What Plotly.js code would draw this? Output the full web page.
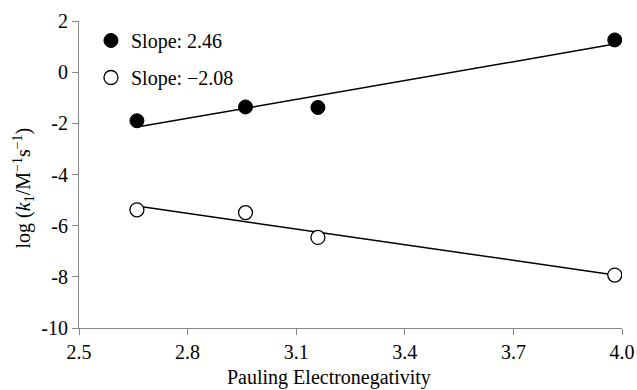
<!DOCTYPE html>
<html>
<head>
<meta charset="utf-8">
<script src="https://cdn.plot.ly/plotly-3.0.1.min.js"></script>
<style>html,body{margin:0;padding:0;background:#fff;}#chart{width:637px;height:390px;}</style>
</head>
<body>
<div id="chart"></div>
<script>
// Pauling electronegativity of halides (I, Br, Cl, F)
const electronegativity = [2.66, 2.96, 3.16, 3.98];
const logK1Filled = [-1.90, -1.36, -1.38, 1.26];
const logK1Open = [-5.38, -5.49, -6.46, -7.93];
const seriesNames = ['Slope: 2.46', 'Slope: \u22122.08'];
const xTicks = [2.5, 2.8, 3.1, 3.4, 3.7, 4.0];
const yTicks = [-10, -8, -6, -4, -2, 0, 2];
const xTitle = 'Pauling Electronegativity';
const yTitle = 'log (<i>k</i><sub>1</sub>/M<sup>\u22121</sup>s<sup>\u22121</sup>)';

function fit(x, y) {
  const n = x.length;
  const mx = x.reduce((a, b) => a + b, 0) / n;
  const my = y.reduce((a, b) => a + b, 0) / n;
  let sxy = 0, sxx = 0;
  for (let i = 0; i < n; i++) { sxy += (x[i] - mx) * (y[i] - my); sxx += (x[i] - mx) ** 2; }
  const m = sxy / sxx, b = my - m * mx;
  const xs = [Math.min(...x), Math.max(...x)];
  return { x: xs, y: xs.map(v => m * v + b) };
}
const f1 = fit(electronegativity, logK1Filled);
const f2 = fit(electronegativity, logK1Open);

const fam = '"Liberation Serif", "Times New Roman", serif';
const fnt = s => ({ family: fam, size: s, color: '#000' });

const traces = [
  { x: f1.x, y: f1.y, mode: 'lines', line: { color: '#000', width: 1.5 }, showlegend: false, hoverinfo: 'skip' },
  { x: f2.x, y: f2.y, mode: 'lines', line: { color: '#000', width: 1.5 }, showlegend: false, hoverinfo: 'skip' },
  { x: electronegativity, y: logK1Filled, mode: 'markers', name: seriesNames[0], legendgroup: 'a',
    marker: { symbol: 'circle', size: 14, color: '#000', line: { color: '#000', width: 1 } } },
  { x: electronegativity, y: logK1Open, mode: 'markers', name: seriesNames[1], legendgroup: 'b',
    marker: { symbol: 'circle', size: 14, color: '#fff', line: { color: '#000', width: 1.3 } } }
];

const layout = {
  width: 637, height: 390,
  margin: { l: 79, r: 15, t: 21, b: 62 },
  paper_bgcolor: '#fff', plot_bgcolor: '#fff',
  font: fnt(20),
  showlegend: true,
  legend: { x: 0.022, y: 1.0, xanchor: 'left', yanchor: 'top', bgcolor: 'rgba(0,0,0,0)',
    traceorder: 'grouped', tracegroupgap: 8, font: fnt(20) },
  xaxis: {
    range: [2.5, 4.0], tickvals: xTicks, ticktext: xTicks.map(v => v.toFixed(1)),
    showgrid: false, zeroline: false, showline: true, linecolor: '#868686', linewidth: 1,
    ticks: 'outside', ticklen: 6, tickcolor: '#868686',
    tickfont: fnt(20)
  },
  yaxis: {
    range: [-10, 2], tickvals: yTicks, ticktext: yTicks.map(v => String(v)),
    showgrid: false, zeroline: false, showline: true, linecolor: '#868686', linewidth: 1,
    ticks: 'outside', ticklen: 6, tickcolor: '#868686',
    tickfont: fnt(20)
  },
  annotations: [
    { text: xTitle, xref: 'paper', yref: 'paper', x: 0.4613, y: -0.161, xanchor: 'center', yanchor: 'middle',
      showarrow: false, font: fnt(20) },
    { text: yTitle, xref: 'paper', yref: 'paper', x: -0.101, y: 0.455, xanchor: 'center', yanchor: 'middle',
      textangle: -90, showarrow: false, font: fnt(20) }
  ]
};

Plotly.newPlot('chart', traces, layout, { displayModeBar: false, staticPlot: true });
</script>
</body>
</html>
